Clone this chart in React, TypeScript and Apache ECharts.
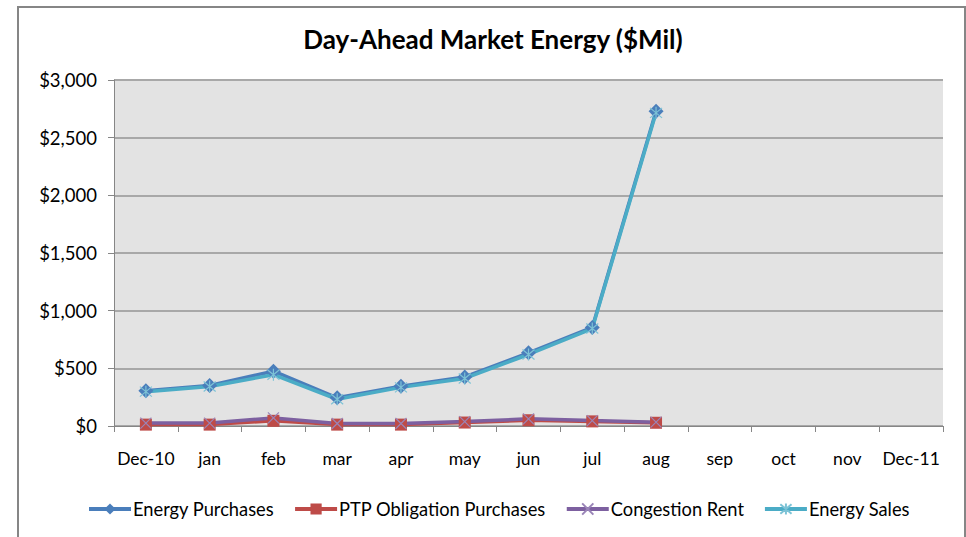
import React, { useEffect, useRef } from "react";
import * as echarts from "echarts";

const categories = ["Dec-10", "jan", "feb", "mar", "apr", "may", "jun", "jul", "aug", "sep", "oct", "nov", "Dec-11"];
const energyPurchases = [305, 352, 475, 245, 345, 425, 635, 855, 2730, null, null, null, null];
const ptpObligationPurchases = [12, 12, 45, 12, 12, 30, 50, 40, 28, null, null, null, null];
const congestionRent = [25, 25, 70, 22, 22, 38, 62, 47, 33, null, null, null, null];
const energySales = [298, 342, 445, 232, 335, 412, 620, 845, 2715, null, null, null, null];
const yTicks = { min: 0, max: 3000, interval: 500 };

const FONT = "Lato, 'Open Sans', sans-serif";

export default function App() {
  const ref = useRef<HTMLDivElement>(null);
  useEffect(() => {
    if (!ref.current) return;
    const chart = echarts.init(ref.current, null, { renderer: "svg" });
    const crossPath = "path://M0,0L10,10M10,0L0,10";
    const starPath = "path://M0,0L10,10M10,0L0,10M5,-1L5,11";
    chart.setOption({
      animation: false,
      backgroundColor: "#ffffff",
      textStyle: { fontFamily: FONT },
      title: {
        text: "Day-Ahead Market Energy ($Mil)",
        left: 488,
        textAlign: "center",
        top: 21,
        textStyle: { fontFamily: FONT, fontSize: 26, fontWeight: "bold", color: "#000" },
      },
      graphic: [
        {
          type: "rect",
          shape: { x: 18, y: 7, width: 947, height: 560 },
          style: { fill: "none", stroke: "#868686", lineWidth: 2 },
          z: 100,
          silent: true,
        },
      ],
      legend: {
        top: 495,
        left: 82,
        itemWidth: 42,
        itemHeight: 14,
        itemGap: 19,
        lineStyle: { width: 4 },
        textStyle: { fontFamily: FONT, fontSize: 18.3, color: "#000", padding: [0, 0, 0, -3] },
        data: ["Energy Purchases", "PTP Obligation Purchases", "Congestion Rent", "Energy Sales"],
      },
      grid: {
        left: 114,
        right: 23,
        top: 80,
        bottom: 111,
        show: true,
        backgroundColor: "#E3E3E3",
        borderWidth: 0,
      },
      xAxis: {
        type: "category",
        data: categories,
        boundaryGap: true,
        axisLine: { show: true, lineStyle: { color: "#868686", width: 1 } },
        axisTick: { show: true, interval: 0, length: 6, lineStyle: { color: "#868686" } },
        axisLabel: { interval: 0, margin: 23, fontSize: 17.5, color: "#000", fontFamily: FONT },
        splitLine: { show: false },
      },
      yAxis: {
        type: "value",
        min: yTicks.min,
        max: yTicks.max,
        interval: yTicks.interval,
        axisLine: { show: true, lineStyle: { color: "#868686", width: 1 } },
        axisTick: { show: true, length: 6, lineStyle: { color: "#868686" } },
        axisLabel: {
          margin: 17,
          fontSize: 18.5,
          color: "#000",
          fontFamily: FONT,
          formatter: (v: number) => "$" + v.toLocaleString("en-US"),
        },
        splitLine: { show: true, lineStyle: { color: "#A8A8A8", width: 2 } },
      },
      series: [
        {
          name: "Energy Purchases",
          type: "line",
          data: energyPurchases,
          symbol: "diamond",
          symbolSize: 15,
          lineStyle: { color: "#4A7EBB", width: 3.5 },
          itemStyle: { color: "#4A7EBB" },
          showAllSymbol: true,
          connectNulls: false,
        },
        {
          name: "PTP Obligation Purchases",
          type: "line",
          data: ptpObligationPurchases,
          symbol: "rect",
          symbolSize: 12,
          lineStyle: { color: "#BE4B48", width: 3.5 },
          itemStyle: { color: "#BE4B48" },
          showAllSymbol: true,
        },
        {
          name: "Congestion Rent",
          type: "line",
          data: congestionRent,
          symbol: crossPath,
          symbolSize: 11,
          lineStyle: { color: "#7D60A0", width: 3.5 },
          itemStyle: { color: "#7D60A0", borderColor: "#9A85B8", borderWidth: 1.2 },
          showAllSymbol: true,
        },
        {
          name: "Energy Sales",
          type: "line",
          data: energySales,
          symbol: starPath,
          symbolSize: 12,
          lineStyle: { color: "#4BACC6", width: 3.5 },
          itemStyle: { color: "#4BACC6", borderColor: "#7DC3D6", borderWidth: 1.2 },
          showAllSymbol: true,
        },
      ],
    });
    return () => chart.dispose();
  }, []);
  return (
    <div
      ref={ref}
      style={{ position: "fixed", left: 0, top: 0, width: 966, height: 537 }}
    />
  );
}
